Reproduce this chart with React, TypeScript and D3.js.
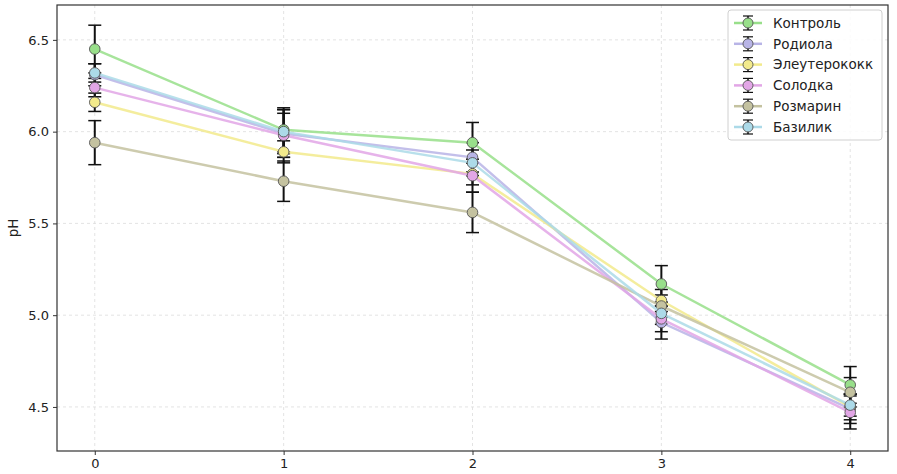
import * as React from 'react';
import * as d3 from 'd3';

// measurement days
const days = [0, 1, 2, 3, 4];
const yTicks = [4.5, 5.0, 5.5, 6.0, 6.5];

const names = ['Контроль', 'Родиола', 'Элеутерококк', 'Солодка', 'Розмарин', 'Базилик'];
const colors = ['#98df8a', '#b8b4e6', '#f2ea8c', '#e2a6e6', '#c4c2a0', '#acdae8'];

const control = [6.45, 6.01, 5.94, 5.17, 4.62];
const rodiola = [6.31, 5.99, 5.86, 4.96, 4.49];
const eleuth = [6.16, 5.89, 5.77, 5.08, 4.50];
const solodka = [6.24, 5.98, 5.76, 4.98, 4.47];
const rozmarin = [5.94, 5.73, 5.56, 5.05, 4.58];
const bazilik = [6.32, 6.00, 5.83, 5.01, 4.51];

const controlErr = [0.13, 0.12, 0.11, 0.10, 0.10];
const rodiolaErr = [0.06, 0.13, 0.08, 0.09, 0.08];
const eleuthErr = [0.05, 0.06, 0.06, 0.06, 0.07];
const solodkaErr = [0.05, 0.12, 0.09, 0.07, 0.09];
const rozmarinErr = [0.12, 0.11, 0.11, 0.06, 0.08];
const bazilikErr = [0.05, 0.12, 0.07, 0.06, 0.06];

const values = [control, rodiola, eleuth, solodka, rozmarin, bazilik];
const errors = [controlErr, rodiolaErr, eleuthErr, solodkaErr, rozmarinErr, bazilikErr];

const W = 897;
const H = 474;
const margin = { top: 5, right: 9, bottom: 23, left: 57 };
const font = '"DejaVu Sans", sans-serif';

export default function App() {
  const ref = React.useRef<SVGSVGElement>(null);

  React.useEffect(() => {
    const el = ref.current;
    if (!el) { return; }
    el.innerHTML = '';
    const svg = d3.select(el);
    const w = W - margin.left - margin.right;
    const h = H - margin.top - margin.bottom;

    const x = d3.scaleLinear().domain([-0.2, 4.2]).range([0, w]);
    const y = d3.scaleLinear().domain([4.26, 6.69]).range([h, 0]);

    const g = svg.append('g').attr('transform', `translate(${margin.left},${margin.top})`);

    // grid
    g.append('g').selectAll('line').data(days).enter().append('line')
      .attr('x1', d => x(d)).attr('x2', d => x(d)).attr('y1', 0).attr('y2', h)
      .attr('stroke', '#dcdcdc').attr('stroke-width', 0.8).attr('stroke-dasharray', '3,3');
    g.append('g').selectAll('line').data(yTicks).enter().append('line')
      .attr('y1', d => y(d)).attr('y2', d => y(d)).attr('x1', 0).attr('x2', w)
      .attr('stroke', '#dcdcdc').attr('stroke-width', 0.8).attr('stroke-dasharray', '3,3');

    // axes
    const xAxis = g.append('g').attr('transform', `translate(0,${h})`)
      .call(d3.axisBottom(x).tickValues(days).tickFormat(d3.format('d')).tickSize(4).tickPadding(4));
    const yAxis = g.append('g')
      .call(d3.axisLeft(y).tickValues(yTicks).tickFormat(d3.format('.1f')).tickSize(4).tickPadding(4));
    [xAxis, yAxis].forEach(a => {
      a.select('.domain').remove();
      a.selectAll('line').attr('stroke', '#333');
      a.selectAll('text').attr('fill', '#222').style('font-family', font).style('font-size', '13px');
    });

    g.append('text')
      .attr('transform', `translate(${-39},${h / 2}) rotate(-90)`)
      .attr('text-anchor', 'middle')
      .style('font-family', font).style('font-size', '13.5px').attr('fill', '#222')
      .text('pH');

    const line = d3.line<number>().x((_, i) => x(days[i])).y(d => y(d));

    // error bars
    values.forEach((vals, s) => {
      const eb = g.append('g');
      vals.forEach((v, i) => {
        const e = errors[s][i];
        const cx = x(days[i]);
        eb.append('line').attr('x1', cx).attr('x2', cx).attr('y1', y(v - e)).attr('y2', y(v + e))
          .attr('stroke', '#111').attr('stroke-width', 2);
        [v - e, v + e].forEach(c => {
          eb.append('line').attr('x1', cx - 6.5).attr('x2', cx + 6.5).attr('y1', y(c)).attr('y2', y(c))
            .attr('stroke', '#111').attr('stroke-width', 1.5);
        });
      });
    });

    values.forEach((vals, s) => {
      g.append('path').datum(vals).attr('d', line)
        .attr('fill', 'none').attr('stroke', colors[s]).attr('stroke-width', 2.5).attr('opacity', 0.85);
      g.append('g').selectAll('circle').data(vals).enter().append('circle')
        .attr('cx', (_, i) => x(days[i])).attr('cy', d => y(d)).attr('r', 5.3)
        .attr('fill', colors[s]).attr('stroke', '#555').attr('stroke-width', 0.9);
    });

    // frame
    g.append('rect').attr('width', w).attr('height', h)
      .attr('fill', 'none').attr('stroke', '#333').attr('stroke-width', 1.2);

    // legend
    const lg = svg.append('g').attr('transform', 'translate(728,10)');
    lg.append('rect').attr('width', 154).attr('height', 130).attr('rx', 3)
      .attr('fill', 'white').attr('fill-opacity', 0.85).attr('stroke', '#d0d0d0');
    const item = lg.selectAll('g.item').data(names).enter().append('g')
      .attr('class', 'item')
      .attr('transform', (_, i) => `translate(0,${13 + i * 20.8})`);
    item.append('line').attr('x1', 6).attr('x2', 34).attr('y1', 0).attr('y2', 0)
      .attr('stroke', (_, i) => colors[i]).attr('stroke-width', 2.5);
    item.append('line').attr('x1', 20).attr('x2', 20).attr('y1', -7).attr('y2', 7)
      .attr('stroke', '#111').attr('stroke-width', 1.5);
    item.append('line').attr('x1', 15).attr('x2', 25).attr('y1', -7).attr('y2', -7)
      .attr('stroke', '#111').attr('stroke-width', 1.2);
    item.append('line').attr('x1', 15).attr('x2', 25).attr('y1', 7).attr('y2', 7)
      .attr('stroke', '#111').attr('stroke-width', 1.2);
    item.append('circle').attr('cx', 20).attr('cy', 0).attr('r', 5)
      .attr('fill', (_, i) => colors[i]).attr('stroke', '#555').attr('stroke-width', 0.9);
    item.append('text').attr('x', 45).attr('y', 0).attr('dy', '0.35em')
      .style('font-family', font).style('font-size', '13.5px').attr('fill', '#222')
      .text(d => d);
  }, []);

  return (
    <svg ref={ref} width={W} height={H}
      style={{ position: 'absolute', left: 0, top: 0, display: 'block', background: 'white' }} />
  );
}
